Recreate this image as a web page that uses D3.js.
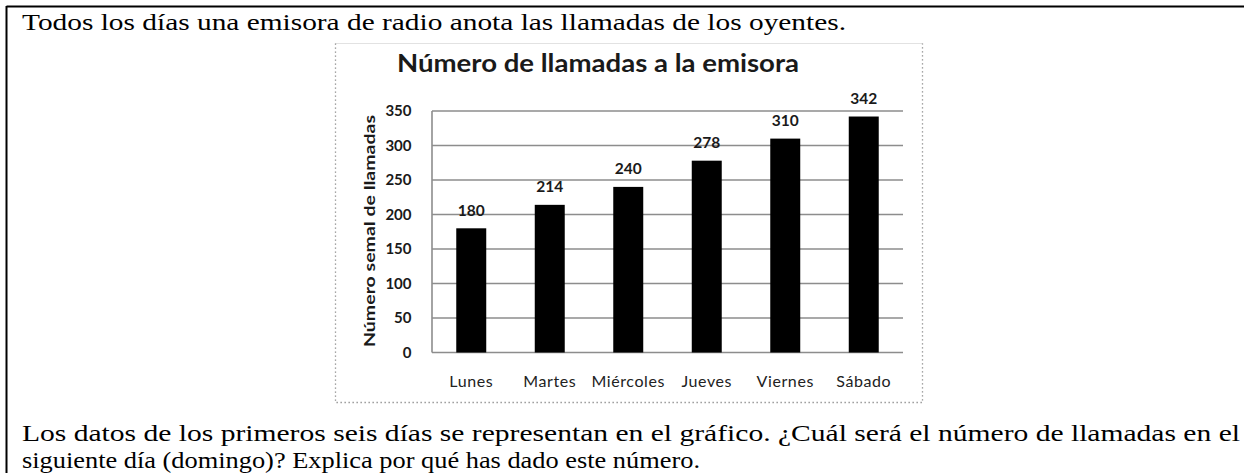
<!DOCTYPE html>
<html lang="es">
<head>
<meta charset="utf-8">
<script src="https://cdn.jsdelivr.net/npm/d3@7"></script>
<style>
  html, body { margin: 0; padding: 0; background: #fff; }
  svg { display: block; }
</style>
</head>
<body>
<script>
// Llamadas registradas por día
const days = ["Lunes", "Martes", "Miércoles", "Jueves", "Viernes", "Sábado"];
const calls = [180, 214, 240, 278, 310, 342];
const yTicks = [0, 50, 100, 150, 200, 250, 300, 350];

const chartTitle = "Número de llamadas a la emisora";
const yAxisTitle = "Número semal de llamadas";
const introText = "Todos los días una emisora de radio anota las llamadas de los oyentes.";
const questionLines = [
  "Los datos de los primeros seis días se representan en el gráfico. ¿Cuál será el número de llamadas en el",
  "siguiente día (domingo)? Explica por qué has dado este número."
];

const W = 1244, H = 473;
const svg = d3.select("body").append("svg").attr("width", W).attr("height", H);

// Recuadro exterior de la pregunta
svg.append("line").attr("x1", 6.5).attr("x2", W).attr("y1", 6.5).attr("y2", 6.5)
  .attr("stroke", "#000").attr("stroke-width", 2);
svg.append("line").attr("x1", 6.5).attr("x2", 6.5).attr("y1", 6).attr("y2", H)
  .attr("stroke", "#000").attr("stroke-width", 2);

// Texto del enunciado (Times)
const serif = "'Liberation Serif', 'Times New Roman', serif";
const textLeft = 22;
const serifSize = 23;

svg.append("text").attr("x", textLeft).attr("y", 30)
  .attr("font-family", serif).attr("font-size", serifSize).attr("fill", "#000")
  .attr("textLength", 824).attr("lengthAdjust", "spacingAndGlyphs")
  .text(introText);

const lineWidths = [1218, 678];
svg.selectAll("text.q").data(questionLines).join("text").attr("class", "q")
  .attr("x", textLeft).attr("y", (d, i) => 441 + i * 27)
  .attr("font-family", serif).attr("font-size", serifSize).attr("fill", "#000")
  .attr("textLength", (d, i) => lineWidths[i]).attr("lengthAdjust", "spacingAndGlyphs")
  .text(d => d);

// Marco del gráfico
const frame = { x0: 335.5, y0: 43.5, x1: 922.5, y1: 402.5 };
svg.append("line").attr("x1", frame.x0).attr("x2", frame.x1).attr("y1", frame.y0).attr("y2", frame.y0)
  .attr("stroke", "#e2e2e2").attr("stroke-width", 1);
svg.append("path")
  .attr("d", `M${frame.x0},${frame.y0}V${frame.y1}H${frame.x1}V${frame.y0}`)
  .attr("fill", "none").attr("stroke", "#8a8a8a").attr("stroke-width", 1.3)
  .attr("stroke-dasharray", "1.3,2.7");

const chartFont = "Lato, 'Open Sans', sans-serif";

// Escalas
const plot = { left: 432, right: 903, top: 111, bottom: 352.5 };
const x = d3.scaleBand().domain(days).range([plot.left, plot.right])
  .paddingInner(0.618).paddingOuter(0.309);
const y = d3.scaleLinear().domain([0, 350]).range([plot.bottom, plot.top]);

// Cuadrícula
const grid = svg.append("g").attr("class", "grid");
grid.selectAll("line").data(yTicks).join("line")
  .attr("x1", plot.left).attr("x2", plot.right)
  .attr("y1", d => y(d)).attr("y2", d => y(d))
  .attr("stroke", "#8d8d8d").attr("stroke-width", 1.6);
grid.append("line").attr("x1", plot.left).attr("x2", plot.left)
  .attr("y1", y(350)).attr("y2", y(0))
  .attr("stroke", "#8d8d8d").attr("stroke-width", 1.6);

// Eje Y
const yAxis = svg.append("g").attr("transform", `translate(${plot.left - 20.5},0)`)
  .call(d3.axisLeft(y).tickValues(yTicks).tickSize(0).tickPadding(0));
yAxis.select(".domain").remove();
yAxis.selectAll("text")
  .attr("font-family", chartFont).attr("font-weight", 700).attr("font-size", 15)
  .attr("fill", "#1a1a1a");

// Eje X
const xAxis = svg.append("g").attr("transform", `translate(0,${plot.bottom})`)
  .call(d3.axisBottom(x).tickSize(0));
xAxis.select(".domain").remove();
xAxis.selectAll("text")
  .attr("y", 387 - plot.bottom).attr("dy", null)
  .attr("font-family", chartFont).attr("font-size", 16)
  .attr("letter-spacing", 0.6)
  .attr("fill", "#222");

// Barras
svg.append("g").selectAll("rect").data(days).join("rect")
  .attr("x", d => x(d)).attr("width", x.bandwidth())
  .attr("y", (d, i) => y(calls[i])).attr("height", (d, i) => y(0) - y(calls[i]))
  .attr("fill", "#000");

// Etiquetas de valor
svg.append("g").selectAll("text").data(days).join("text")
  .attr("x", d => x(d) + x.bandwidth() / 2)
  .attr("y", (d, i) => y(calls[i]) - 12.5)
  .attr("text-anchor", "middle")
  .attr("font-family", chartFont).attr("font-weight", 700).attr("font-size", 15.5)
  .attr("fill", "#1a1a1a")
  .text((d, i) => calls[i]);

// Título del gráfico
svg.append("text").attr("x", 598).attr("y", 72).attr("text-anchor", "middle")
  .attr("font-family", chartFont).attr("font-weight", 700).attr("font-size", 24.5)
  .attr("textLength", 402).attr("lengthAdjust", "spacingAndGlyphs")
  .attr("fill", "#1a1a1a")
  .text(chartTitle);

// Título del eje Y
svg.append("text")
  .attr("transform", `translate(375,231) rotate(-90)`)
  .attr("text-anchor", "middle")
  .attr("font-family", chartFont).attr("font-weight", 700).attr("font-size", 15.5)
  .attr("textLength", 232).attr("lengthAdjust", "spacingAndGlyphs")
  .attr("fill", "#1a1a1a")
  .text(yAxisTitle);
</script>
</body>
</html>
